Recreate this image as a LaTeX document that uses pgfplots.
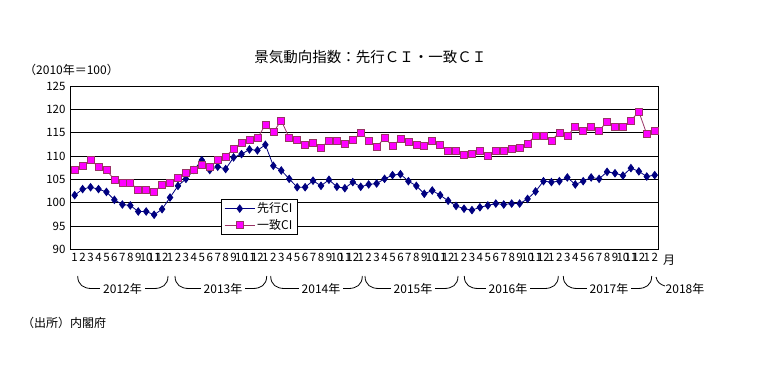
\documentclass[border=0pt]{standalone}
\usepackage{fontspec}
\setmainfont{Noto Sans CJK JP}
\usepackage{pgfplots}
\pgfplotsset{compat=1.18}
\usepackage{pgfplotstable}
\definecolor{navyc}{RGB}{0,0,128}
\definecolor{magc}{RGB}{255,0,255}
\definecolor{magedge}{RGB}{153,51,102}

\pgfplotstableread{
i lead coin
0 101.6 107.1
1 102.9 107.9
2 103.3 109.1
3 102.9 107.7
4 102.3 107.0
5 100.6 104.9
6 99.6 104.3
7 99.4 104.3
8 98.1 102.7
9 98.1 102.7
10 97.4 102.3
11 98.6 103.9
12 101.1 104.3
13 103.6 105.4
14 105.1 106.4
15 107.0 107.0
16 109.1 108.1
17 107.0 107.6
18 107.7 109.1
19 107.2 109.9
20 109.7 111.6
21 110.4 112.9
22 111.4 113.4
23 111.2 113.8
24 112.4 116.7
25 107.9 115.1
26 106.9 117.6
27 105.1 113.9
28 103.3 113.4
29 103.3 112.4
30 104.7 112.9
31 103.6 111.8
32 104.9 113.3
33 103.4 113.3
34 103.1 112.7
35 104.4 113.4
36 103.4 115.0
37 103.9 113.3
38 104.1 112.0
39 105.1 113.8
40 105.9 112.2
41 106.1 113.6
42 104.6 113.0
43 103.6 112.4
44 101.9 112.2
45 102.6 113.3
46 101.6 112.5
47 100.4 111.1
48 99.3 111.1
49 98.7 110.2
50 98.4 110.5
51 99.0 111.1
52 99.4 110.0
53 99.8 111.1
54 99.6 111.1
55 99.8 111.6
56 99.8 111.8
57 100.8 112.7
58 102.4 114.4
59 104.6 114.4
60 104.4 113.3
61 104.6 115.0
62 105.4 114.3
63 103.9 116.3
64 104.6 115.4
65 105.4 116.3
66 105.1 115.4
67 106.6 117.4
68 106.3 116.3
69 105.8 116.3
70 107.4 117.6
71 106.7 119.5
72 105.6 114.7
73 105.9 115.4
}\data

\begin{document}
\begin{tikzpicture}
\path[use as bounding box] (0bp,0bp) rectangle (761bp,386bp);
\begin{axis}[
  at={(70.7bp,136.7bp)}, anchor=south west,
  scale only axis, width=588bp, height=163.3bp,
  xmin=-0.5, xmax=73.5, ymin=90, ymax=125,
  ytick={90,95,...,125},
  ymajorgrids,
  major grid style={black, line width=0.7bp},
  axis line style={black, line width=0.7bp},
  ytick style={draw=none},
  xtick={0,...,73},
  xticklabels={1,2,3,4,5,6,7,8,9,10,11,12,1,2,3,4,5,6,7,8,9,10,11,12,1,2,3,4,5,6,7,8,9,10,11,12,1,2,3,4,5,6,7,8,9,10,11,12,1,2,3,4,5,6,7,8,9,10,11,12,1,2,3,4,5,6,7,8,9,10,11,12,1,2},
  xtick style={draw=none},
  minor xtick={-0.5,0.5,...,73.5},
  minor x tick style={black, line width=0.6bp},
  minor tick length=4bp,
  tick align=inside,
  /pgf/number format/assume math mode=true,
  ticklabel style={font=\fontsize{11.5bp}{12bp}\selectfont},
  xticklabel style={inner sep=1bp, yshift=-3bp},
  yticklabel style={inner sep=2bp, xshift=-3bp},
  clip=false,
  legend style={at={(0.2556,0.308)}, anchor=north west, draw=black, fill=white,
    line width=0.7bp, font=\fontsize{12bp}{13bp}\selectfont,
    inner xsep=3bp, inner ysep=1.5bp, row sep=1bp, cells={anchor=west}},
  legend image code/.code={%
    \draw[mark repeat=2,mark phase=2] plot coordinates {(0bp,0bp) (15bp,0bp) (30bp,0bp)};},
]
\addplot[navyc, line width=0.8bp, mark=diamond*, mark size=3.7bp,
  mark options={solid, fill=navyc, draw=navyc}] table[x=i,y=lead]{\data};
\addlegendentry{先行CI}
\addplot[magedge, line width=0.8bp, mark=square*, mark size=3.5bp,
  mark options={solid, fill=magc, draw=magedge, line width=0.6bp}] table[x=i,y=coin]{\data};
\addlegendentry{一致CI}
\end{axis}
\begin{scope}[x=1bp,y=1bp]
\node at (370.5,328.5) {\fontsize{14.5bp}{16bp}\selectfont 景気動向指数：先行ＣＩ・一致ＣＩ};
\node[anchor=west, inner sep=0pt] at (24,316) {\fontsize{12bp}{14bp}\selectfont （2010年＝100）};
\node[anchor=west, inner sep=0pt] at (22,63) {\fontsize{12bp}{14bp}\selectfont （出所）内閣府};
\node at (669,126) {\fontsize{12bp}{14bp}\selectfont 月};
\foreach \xl/\xr/\xc/\yr in {77.7/168/122.5/2012, 175/266.7/223/2013, 270.7/362.3/321/2014, 365/458/413/2015, 464.3/558.3/508/2016, 563.3/651.7/609/2017} {
  \draw[black, line width=0.8bp] (\xl,110) .. controls (\xl,101) and (\xl+6,97.5) .. (\xl+14,97.5) -- (\xr-14,97.5) .. controls (\xr-6,97.5) and (\xr,101) .. (\xr,110);
  \node[fill=white, inner xsep=3bp, inner ysep=1bp] at (\xc,97) {\fontsize{12bp}{14bp}\selectfont \yr 年};
}
\draw[black, line width=0.8bp] (656,109) .. controls (657,104) and (660,101.5) .. (665,100);
\node at (685,97) {\fontsize{12bp}{14bp}\selectfont 2018年};
\end{scope}
\end{tikzpicture}
\end{document}
